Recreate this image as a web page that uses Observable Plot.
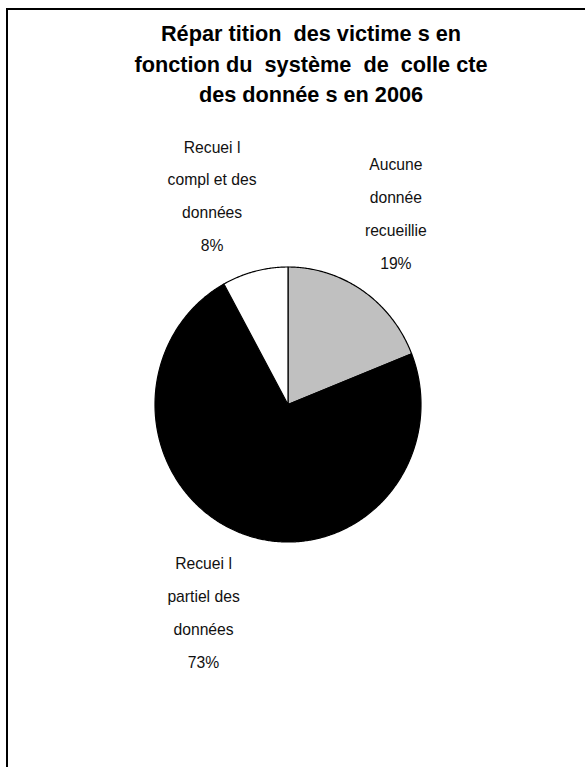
<!DOCTYPE html>
<html>
<head>
<meta charset="utf-8">
<script src="https://cdn.jsdelivr.net/npm/d3@7"></script>
<script src="https://cdn.jsdelivr.net/npm/@observablehq/plot@0.6"></script>
<style>
  html, body { margin: 0; padding: 0; background: #fff; overflow: hidden; }
  #title {
    box-sizing: border-box; width: 585px; height: 120px;
    padding-top: 19px; padding-left: 37px;
    font-family: "Liberation Sans", Arial, sans-serif; font-weight: bold;
    font-size: 21.7px; line-height: 30.5px; text-align: center; color: #000;
    white-space: pre;
  }
  #frameL { position: absolute; left: 6px; top: 8px; width: 2px; height: 759px; background: #000; }
  #frameT { position: absolute; left: 6px; top: 8px; width: 579px; height: 2px; background: #000; }
  #chart svg { display: block; background: transparent; }
</style>
</head>
<body>
<div id="title"></div>
<div id="chart"></div>
<div id="frameL"></div>
<div id="frameT"></div>
<script>
// ---- data ----
const titleLines = ["Répar tition  des victime s en", "fonction du  système  de  colle cte", "des donnée s en 2006"];
const categories = ["Aucune donnée recueillie", "Recueil partiel des données", "Recueil complet des données"];
const labelTexts = ["Aucune\ndonnée\nrecueillie", "Recuei l\npartiel des\ndonnées", "Recuei l\ncompl et des\ndonnées"];
const values = [19, 73, 8];

// ---- styles ----
const sliceColors = ["#c0c0c0", "#000000", "#ffffff"];
const labelNudge = [[-14, -10], [-11, -7], [-22, 4]];
const labelRadius = 1.63;

document.getElementById("title").textContent = titleLines.join("\n");

const total = d3.sum(values);
let acc = 0;
const slices = values.map((v, i) => {
  const a0 = acc / total * 2 * Math.PI;
  acc += v;
  const a1 = acc / total * 2 * Math.PI;
  return {name: categories[i], value: v, a0, a1, color: sliceColors[i], label: labelTexts[i] + "\n" + v + "%"};
});

// outline points of each slice (center -> arc -> center)
const pts = [];
for (const s of slices) {
  pts.push({name: s.name, color: s.color, x: 0, y: 0});
  const n = Math.max(2, Math.ceil((s.a1 - s.a0) / (Math.PI / 360)));
  for (let k = 0; k <= n; k++) {
    const a = s.a0 + (s.a1 - s.a0) * k / n;
    pts.push({name: s.name, color: s.color, x: Math.sin(a), y: Math.cos(a)});
  }
  pts.push({name: s.name, color: s.color, x: 0, y: 0});
}

const labelMarks = slices.map((s, i) => {
  const m = (s.a0 + s.a1) / 2;
  return Plot.text([s], {
    x: () => labelRadius * Math.sin(m),
    y: () => labelRadius * Math.cos(m),
    text: "label",
    dx: labelNudge[i][0], dy: labelNudge[i][1],
    fontSize: 15.7, lineHeight: 2.1, fill: "#111",
    textAnchor: "middle", lineAnchor: "middle"
  });
});

const chart = Plot.plot({
  width: 585, height: 647,
  margin: 0,
  style: {fontFamily: "'Liberation Sans', Arial, sans-serif", background: "transparent"},
  x: {domain: [-1, 1], range: [154.5, 420.5], axis: null},
  y: {domain: [-1, 1], range: [421.5, 146.5], axis: null},
  color: {type: "identity"},
  marks: [
    Plot.line(pts, {x: "x", y: "y", z: "name", fill: "color", stroke: "#000", strokeWidth: 1.2, strokeLinejoin: "round", curve: "linear"}),
    ...labelMarks
  ]
});
document.getElementById("chart").appendChild(chart);
</script>
</body>
</html>
